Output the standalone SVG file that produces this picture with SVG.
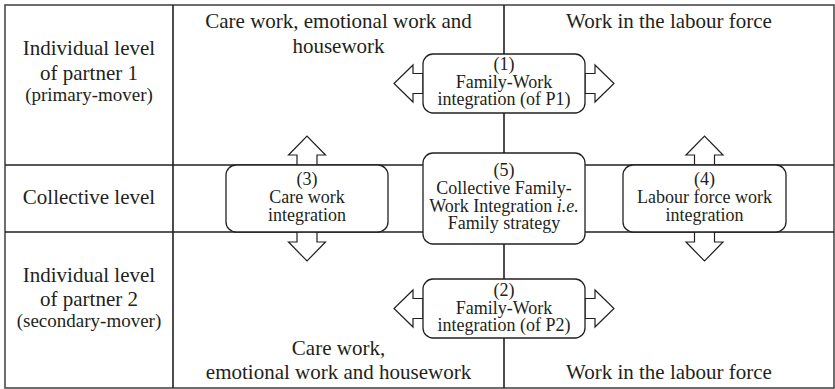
<svg xmlns="http://www.w3.org/2000/svg" xmlns:xlink="http://www.w3.org/1999/xlink" width="835" height="389" viewBox="0 0 835 389">
  <style>
    text { font-family: "Liberation Serif", "DejaVu Serif", serif; fill: #231f20; text-anchor: middle; }
    .lab { font-size: 21px; }
    .sub { font-size: 19px; }
    .box text { font-size: 18px; }
    .grid { stroke: #231f20; stroke-width: 1.6; fill: none; }
    .frame { stroke: #4a4a4a; stroke-width: 1.6; fill: none; }
    .box rect { fill: #ffffff; stroke: #231f20; stroke-width: 1.3; }
    .arrow { fill: #ffffff; stroke: #231f20; stroke-width: 1.2; stroke-linejoin: miter; }
  </style>
  <defs>
    <!-- hollow block arrow pointing up; origin at the centre of its base -->
    <path id="blk" d="M-10,0 V-10 H-18.5 L0,-29 L18.5,-10 H10 V0 Z"/>
  </defs>

  <rect width="835" height="389" fill="#ffffff"/>

  <!-- table grid -->
  <g id="grid">
    <rect class="frame" x="5" y="5" width="829" height="383"/>
    <line class="grid" x1="173" y1="5" x2="173" y2="388"/>
    <line class="grid" x1="504" y1="5" x2="504" y2="388"/>
    <line class="grid" x1="5" y1="165" x2="834" y2="165"/>
    <line class="grid" x1="5" y1="232" x2="834" y2="232"/>
  </g>

  <!-- row and column headings -->
  <g id="row-p1">
    <text class="lab" x="89" y="55">Individual level</text>
    <text class="lab" x="89" y="80">of partner 1</text>
    <text class="sub" x="89" y="101">(primary-mover)</text>
  </g>
  <g id="row-collective">
    <text class="lab" x="89" y="204">Collective level</text>
  </g>
  <g id="row-p2">
    <text class="lab" x="89" y="282">Individual level</text>
    <text class="lab" x="89" y="306">of partner 2</text>
    <text class="sub" x="89" y="327">(secondary-mover)</text>
  </g>
  <g id="care-top">
    <text class="lab" x="338.5" y="28">Care work, emotional work and</text>
    <text class="lab" x="338.5" y="53">housework</text>
  </g>
  <g id="labour-top">
    <text class="lab" x="669" y="28">Work in the labour force</text>
  </g>
  <g id="care-bottom">
    <text class="lab" x="338.5" y="355">Care work,</text>
    <text class="lab" x="338.5" y="379">emotional work and housework</text>
  </g>
  <g id="labour-bottom">
    <text class="lab" x="669" y="379">Work in the labour force</text>
  </g>

  <!-- block arrows -->
  <g id="connectors" class="arrow">
    <use xlink:href="#blk" transform="translate(307,165)"/>
    <use xlink:href="#blk" transform="translate(307,232) rotate(180)"/>
    <use xlink:href="#blk" transform="translate(704.5,165)"/>
    <use xlink:href="#blk" transform="translate(704.5,232) rotate(180)"/>
    <use xlink:href="#blk" transform="translate(423,83.5) rotate(-90)"/>
    <use xlink:href="#blk" transform="translate(585,83.5) rotate(90)"/>
    <use xlink:href="#blk" transform="translate(423,308.5) rotate(-90)"/>
    <use xlink:href="#blk" transform="translate(585,308.5) rotate(90)"/>
  </g>

  <!-- integration boxes -->
  <g id="box1" class="box">
    <rect x="423" y="54" width="162" height="59" rx="10"/>
    <text x="504" y="70">(1)</text>
    <text x="504" y="87.5">Family-Work</text>
    <text x="504" y="105">integration (of P1)</text>
  </g>
  <g id="box2" class="box">
    <rect x="423" y="279" width="162" height="59" rx="10"/>
    <text x="504" y="296">(2)</text>
    <text x="504" y="313.5">Family-Work</text>
    <text x="504" y="331">integration (of P2)</text>
  </g>
  <g id="box3" class="box">
    <rect x="226" y="165" width="162" height="67" rx="10"/>
    <text x="307" y="185">(3)</text>
    <text x="307" y="203">Care work</text>
    <text x="307" y="220.5">integration</text>
  </g>
  <g id="box4" class="box">
    <rect x="623" y="165" width="163" height="67" rx="10"/>
    <text x="704.5" y="185">(4)</text>
    <text x="704.5" y="203">Labour force work</text>
    <text x="704.5" y="220.5">integration</text>
  </g>
  <g id="box5" class="box">
    <rect x="423" y="153" width="162" height="91" rx="10"/>
    <text x="504" y="176">(5)</text>
    <text x="504" y="194">Collective Family-</text>
    <text x="504" y="211.5">Work Integration <tspan font-style="italic">i.e.</tspan></text>
    <text x="504" y="229">Family strategy</text>
  </g>
</svg>
